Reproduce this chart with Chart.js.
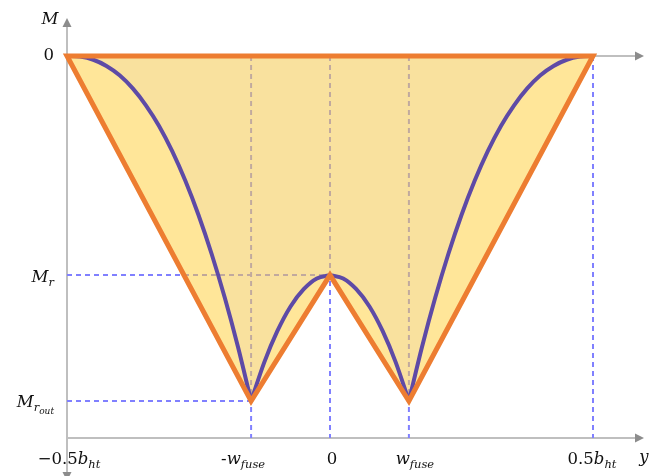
<!DOCTYPE html>
<html>
<head>
<meta charset="utf-8">
<script src="https://cdn.jsdelivr.net/npm/chart.js@4.4.1/dist/chart.umd.min.js"></script>
<style>
  html, body { margin: 0; padding: 0; background: #fff; }
  #wrap { width: 663px; height: 476px; }
</style>
</head>
<body>
<div id="wrap"><canvas id="chart"></canvas></div>
<script>
'use strict';

/* ── DONNÉES ── */
const wFuse = 0.15;
const mR    = -0.635;
const mRout = -1;
const mAxis = -1.107;          // niveau de l'axe horizontal du bas

// contour orange (moment résistant)
const zigY = [0, -0.5, -0.15, 0, 0.15, 0.5, 0];
const zigM = [0, 0, -1, -0.635, -1, 0, 0];

// courbe violette
const outerLeftY  = [-0.5, -0.475, -0.45, -0.425, -0.4, -0.375, -0.35, -0.325, -0.3, -0.275, -0.25, -0.225, -0.2, -0.175, -0.15];
const outerLeftM  = [0, -0.002, -0.011, -0.029, -0.056, -0.094, -0.143, -0.203, -0.276, -0.362, -0.461, -0.574, -0.701, -0.843, -1];
const midLeftY    = [-0.15, -0.125, -0.1, -0.075, -0.05, -0.025, 0];
const midLeftM    = [-1, -0.888, -0.797, -0.726, -0.676, -0.645, -0.635];
const midRightY   = [0, 0.025, 0.05, 0.075, 0.1, 0.125, 0.15];
const midRightM   = [-0.635, -0.645, -0.676, -0.726, -0.797, -0.888, -1];
const outerRightY = [0.15, 0.175, 0.2, 0.225, 0.25, 0.275, 0.3, 0.325, 0.35, 0.375, 0.4, 0.425, 0.45, 0.475, 0.5];
const outerRightM = [-1, -0.843, -0.701, -0.574, -0.461, -0.362, -0.276, -0.203, -0.143, -0.094, -0.056, -0.029, -0.011, -0.002, 0];

// graduations
const xTickVals   = [-0.5, -0.15, 0, 0.15, 0.5];
const xTickLabels = [
  [['−0.5', 'n'], ['b', 'i'], ['ht', 's']],
  [['-', 'n'], ['w', 'i'], ['fuse', 's']],
  [['0', 'n']],
  [['w', 'i'], ['fuse', 's']],
  [['0.5', 'n'], ['b', 'i'], ['ht', 's']],
];
const yTickVals   = [0, -0.635, -1];
const yTickLabels = [
  [['0', 'n']],
  [['M', 'i'], ['r', 's']],
  [['M', 'i'], ['r', 's'], ['out', 'ss']],
];
const xTitle = [['y', 'i']];
const yTitle = [['M', 'i']];

/* ── COULEURS ── */
const ORANGE = '#ED7D31';
const PURPLE = '#5E4AA6';
const BLUE   = '#8080FF';
const AXIS   = '#BFBFBF';
const ARROW  = '#8C8C8C';

const pts = (xs, ys) => xs.map((x, i) => ({ x, y: ys[i] }));

/* ── DESSIN DES TEXTES MATHS ── */
const STYLES = {
  n:  { font: '16.5px "DejaVu Serif"',        dy: 0 },
  i:  { font: 'italic 16.5px "DejaVu Serif"', dy: 0 },
  s:  { font: 'italic 11.5px "DejaVu Serif"', dy: 4 },
  ss: { font: 'italic 9px "DejaVu Serif"',    dy: 7 },
};

function drawMath(ctx, pieces, x, base, align) {
  let w = 0;
  pieces.forEach(([t, st]) => { ctx.font = STYLES[st].font; w += ctx.measureText(t).width; });
  let cx = align === 'right' ? x - w : align === 'center' ? x - w / 2 : x;
  ctx.textAlign = 'left';
  ctx.textBaseline = 'alphabetic';
  ctx.fillStyle = '#111';
  pieces.forEach(([t, st]) => {
    ctx.font = STYLES[st].font;
    ctx.fillText(t, cx, base + STYLES[st].dy);
    cx += ctx.measureText(t).width;
  });
}

function arrow(ctx, tx, ty, dir) {
  const L = 9, H = 4.5;
  ctx.beginPath();
  if (dir === 'right') { ctx.moveTo(tx, ty); ctx.lineTo(tx - L, ty - H); ctx.lineTo(tx - L, ty + H); }
  if (dir === 'up')    { ctx.moveTo(tx, ty); ctx.lineTo(tx - H, ty + L); ctx.lineTo(tx + H, ty + L); }
  if (dir === 'down')  { ctx.moveTo(tx, ty); ctx.lineTo(tx - H, ty - L); ctx.lineTo(tx + H, ty - L); }
  ctx.closePath();
  ctx.fillStyle = ARROW;
  ctx.fill();
}

/* ── AXES + LIBELLÉS ── */
const diagramPlugin = {
  id: 'diagram',
  beforeDatasetsDraw(chart) {
    const { ctx, scales: { x, y } } = chart;
    const x0   = x.getPixelForValue(-0.5);
    const xEnd = x.getPixelForValue(0.597);
    const yTop = y.getPixelForValue(0.11);
    const yZero = y.getPixelForValue(0);
    const yBot = y.getPixelForValue(mAxis);
    ctx.save();
    ctx.strokeStyle = AXIS;
    ctx.lineWidth = 2;
    ctx.beginPath();
    ctx.moveTo(x0, chart.height); ctx.lineTo(x0, yTop + 8);
    ctx.moveTo(x0, yBot); ctx.lineTo(xEnd - 8, yBot);
    ctx.moveTo(x0, yZero); ctx.lineTo(xEnd - 8, yZero);
    ctx.stroke();
    arrow(ctx, x0, yTop, 'up');
    arrow(ctx, x0, chart.height + 5, 'down');
    arrow(ctx, xEnd, yBot, 'right');
    arrow(ctx, xEnd, yZero, 'right');
    ctx.restore();
  },
  afterDatasetsDraw(chart) {
    const { ctx, scales: { x, y } } = chart;
    const x0   = x.getPixelForValue(-0.5);
    const yBot = y.getPixelForValue(mAxis);
    const xShift = [2, -8, 2, 6, -1];
    const yBase  = [4, 7, 6];
    ctx.save();
    xTickVals.forEach((v, i) =>
      drawMath(ctx, xTickLabels[i], x.getPixelForValue(v) + xShift[i], yBot + 26, 'center'));
    yTickVals.forEach((v, i) =>
      drawMath(ctx, yTickLabels[i], x0 - 13, y.getPixelForValue(v) + yBase[i], 'right'));
    drawMath(ctx, yTitle, x0 - 17, y.getPixelForValue(0.11) + 6, 'center');
    drawMath(ctx, xTitle, x.getPixelForValue(0.597), yBot + 24, 'center');
    ctx.restore();
  },
};

/* ── DATASETS ── */
const guide = (xs, ys) => ({
  data: pts(xs, ys),
  borderColor: BLUE,
  borderWidth: 2,
  borderDash: [5, 4],
  pointRadius: 0,
  fill: false,
  tension: 0,
  clip: false,
  order: 10,
});

const purpleLine = (xs, ys) => ({
  data: pts(xs, ys),
  borderColor: PURPLE,
  borderWidth: 4,
  pointRadius: 0,
  fill: false,
  cubicInterpolationMode: 'monotone',
  clip: false,
  order: 4,
});

const datasets = [
  guide([-0.15, -0.15], [0, mAxis]),
  guide([0, 0], [0, mAxis]),
  guide([0.15, 0.15], [0, mAxis]),
  guide([0.5, 0.5], [0, mAxis]),
  guide([-0.5, 0], [mR, mR]),
  guide([-0.5, -0.15], [mRout, mRout]),
  {
    // remplissage jaune (semi-transparent : les pointillés restent visibles)
    data: pts(zigY.slice(1, 6), zigM.slice(1, 6)),
    borderWidth: 0,
    backgroundColor: 'rgba(255,205,51,0.5)',
    fill: { value: 0 },
    pointRadius: 0,
    tension: 0,
    clip: false,
    order: 9,
  },
  {
    // zone sous la courbe violette, un peu plus terne
    data: pts(
      outerLeftY.concat(midLeftY, midRightY, outerRightY),
      outerLeftM.concat(midLeftM, midRightM, outerRightM)
    ),
    borderWidth: 0,
    backgroundColor: 'rgba(200,195,200,0.11)',
    fill: { value: 0 },
    pointRadius: 0,
    tension: 0,
    clip: false,
    order: 8,
  },
  purpleLine(outerLeftY, outerLeftM),
  purpleLine(midLeftY, midLeftM),
  purpleLine(midRightY, midRightM),
  purpleLine(outerRightY, outerRightM),
  {
    data: pts(zigY, zigM),
    borderColor: ORANGE,
    borderWidth: 5,
    borderJoinStyle: 'miter',
    pointRadius: 0,
    fill: false,
    tension: 0,
    clip: false,
    order: 2,
  },
];

/* ── CHART ── */
new Chart(document.getElementById('chart'), {
  type: 'line',
  data: { datasets },
  options: {
    responsive: true,
    maintainAspectRatio: false,
    animation: false,
    layout: { padding: { left: 67, right: 17.4, top: 18, bottom: 6 } },
    plugins: {
      legend: { display: false },
      tooltip: { enabled: false },
    },
    events: [],
    scales: {
      x: { type: 'linear', min: -0.5, max: 0.6, display: false },
      y: { type: 'linear', min: -1.2, max: 0.11, display: false },
    },
  },
  plugins: [diagramPlugin],
});
</script>
</body>
</html>
